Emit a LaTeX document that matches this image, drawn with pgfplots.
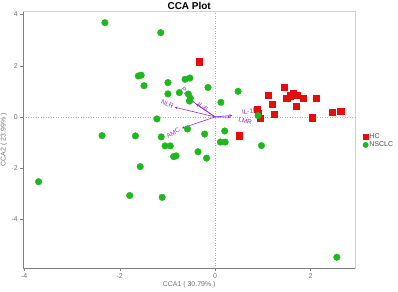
\documentclass[border=0pt]{standalone}
\usepackage{pgfplots}
\pgfplotsset{compat=1.18}
\usepackage{fontspec}
\setmainfont{Liberation Sans}
\usetikzlibrary{arrows.meta}
\definecolor{hcred}{RGB}{228,12,12}
\definecolor{nsgreen}{RGB}{30,184,30}
\definecolor{arrpur}{RGB}{150,45,205}
\begin{document}
\begin{tikzpicture}
\useasboundingbox (0,0) rectangle (398bp,292bp);
\begin{axis}[
  at={(23.3bp,24bp)}, anchor=south west,
  scale only axis, width=331.7bp, height=256.3bp,
  xmin=-4.02, xmax=2.93, ymin=-5.9, ymax=4.11,
  xtick={-4,-2,0,2}, ytick={-4,-2,0,2,4},
  xtick pos=bottom, ytick pos=left,
  tick align=outside, major tick length=3bp,
  tick style={gray, line width=0.4pt},
  axis line style={draw=gray!35, line width=0.5pt},
  /pgf/number format/assume math mode=true,
  ticklabel style={font=\fontsize{7}{8}\selectfont, text=gray!90!black},
  xticklabel style={yshift=1bp},
  yticklabel style={xshift=1bp},
  title={\textbf{CCA Plot}},
  every axis title/.style={at={(0.5,1)}, anchor=base, yshift=2.2bp, inner sep=0bp, font=\fontsize{10}{11}\selectfont},
  xlabel={CCA1 ( 30.79\% )},
  ylabel={CCA2 ( 23.99\% )},
  label style={font=\fontsize{7}{8}\selectfont, text=gray!90!black},
  xlabel style={at={(0.5,0)}, anchor=center, yshift=-17bp},
  ylabel style={at={(axis description cs:-0.0585,0.5)}, anchor=center},
  legend style={at={(1,0.4955)}, anchor=west, xshift=7.5bp, draw=none, fill=none,
    font=\fontsize{7}{8}\selectfont, inner sep=0pt, row sep=-0.5bp,
    text=gray!60!black, nodes={inner sep=1bp}},
  legend cell align=left,
  clip=false,
]
% zero reference lines
\addplot[gray!60, dotted, line width=0.5pt, forget plot] coordinates {(0,-5.9) (0,4.11)};
\addplot[gray!60, dotted, line width=0.5pt, forget plot] coordinates {(-4.02,0) (2.93,0)};

% HC (red squares)
\addplot[only marks, mark=square*, mark size=3.1bp, color=hcred, mark options={draw=hcred, fill=hcred},
  legend image code/.code={\fill[hcred] (0bp,-2.6bp) rectangle (5.2bp,2.6bp);}]
coordinates {
(-0.33,2.16) (1.44,1.16) (1.11,0.85) (1.50,0.73) (1.57,0.83) (1.64,0.91)
(1.72,0.85) (1.85,0.73) (2.11,0.73) (1.20,0.49) (1.70,0.42) (1.23,0.10)
(0.88,0.31) (0.90,0.15) (0.94,-0.05) (2.03,-0.03) (2.46,0.18) (2.63,0.22)
(0.50,-0.73)
};
\addlegendentry{HC}

% NSCLC (green circles)
\addplot[only marks, mark=*, mark size=3.3bp, color=nsgreen, mark options={draw=nsgreen, fill=nsgreen},
  legend image code/.code={\fill[nsgreen] (2.6bp,0bp) circle (2.7bp);}]
coordinates {
(-2.31,3.68) (-1.14,3.29) (-1.61,1.60) (-1.55,1.63) (-1.49,1.22)
(-0.99,1.34) (-0.99,0.90) (-0.75,0.95) (-0.63,1.47) (-0.53,1.52)
(-0.56,0.89) (-0.52,0.73) (-0.54,0.62) (-0.15,1.15) (0.48,1.00)
(0.12,0.57) (0.90,0.05) (-1.22,-0.08) (-2.37,-0.73) (-1.67,-0.74)
(-1.13,-0.78) (-0.58,-0.47) (-1.05,-1.13) (-0.94,-1.13) (-0.22,-0.67)
(0.20,-0.55) (0.11,-0.98) (0.21,-0.98) (0.97,-1.12) (-0.87,-1.55)
(-0.82,-1.52) (-0.36,-1.36) (-0.18,-1.61) (-1.57,-1.94) (-3.70,-2.53)
(-1.79,-3.07) (-1.11,-3.14) (2.55,-5.48)
};
\addlegendentry{NSCLC}

% biplot arrows
\addplot[arrpur, line width=0.6pt, -{Stealth[length=3bp,width=2.5bp]}, forget plot] coordinates {(0,0) (-0.85,0.38)};
\addplot[arrpur, line width=0.6pt, -{Stealth[length=3bp,width=2.5bp]}, forget plot] coordinates {(0,0) (-0.70,-0.44)};
\addplot[arrpur, line width=0.6pt, -{Stealth[length=3bp,width=2.5bp]}, forget plot] coordinates {(0,0) (-0.50,0.64)};
\addplot[arrpur, line width=0.6pt, -{Stealth[length=3bp,width=2.5bp]}, forget plot] coordinates {(0,0) (-0.40,0.50)};
\addplot[arrpur, line width=0.6pt, -{Stealth[length=3bp,width=2.5bp]}, forget plot] coordinates {(0,0) (0.36,0.06)};
\addplot[arrpur, line width=0.6pt, -{Stealth[length=3bp,width=2.5bp]}, forget plot] coordinates {(0,0) (0.32,-0.01)};

\node[text=arrpur, font=\fontsize{6.5}{7}\selectfont, rotate=-25, inner sep=0pt] at (axis cs:-1.00,0.51) {NLR};
\node[text=arrpur, font=\fontsize{6.5}{7}\selectfont, rotate=30, inner sep=0pt] at (axis cs:-0.88,-0.62) {AMC};
\node[text=arrpur, font=\fontsize{6.5}{7}\selectfont, rotate=-50, inner sep=0pt] at (axis cs:-0.60,0.92) {PLR};
\node[text=arrpur, font=\fontsize{6.5}{7}\selectfont, rotate=-38, inner sep=0pt] at (axis cs:-0.26,0.40) {IL-6};
\node[text=arrpur, font=\fontsize{6.5}{7}\selectfont, rotate=8, inner sep=0pt] at (axis cs:0.72,0.20) {IL-1β};
\node[text=arrpur, font=\fontsize{6.5}{7}\selectfont, rotate=-15, inner sep=0pt] at (axis cs:0.63,-0.16) {LMR};

% darker left and bottom spines
\draw[gray, line width=0.5pt] (rel axis cs:0,0) -- (rel axis cs:0,1);
\draw[gray, line width=0.5pt] (rel axis cs:0,0) -- (rel axis cs:1,0);
\end{axis}
\end{tikzpicture}
\end{document}
